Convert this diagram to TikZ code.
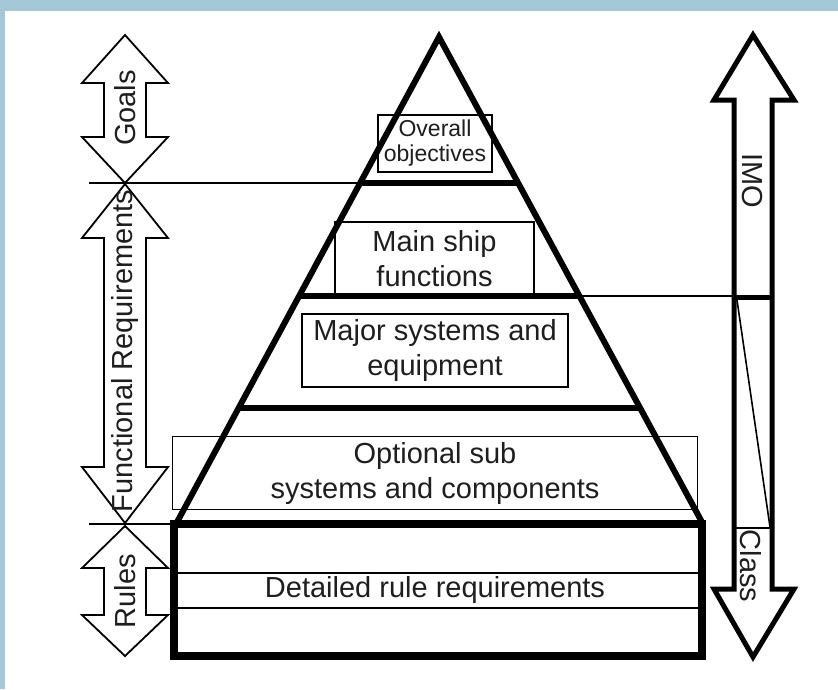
\documentclass[tikz,border=0pt]{standalone}
\usepackage{fontspec}
\setmainfont{Liberation Sans}
\usetikzlibrary{calc}
\definecolor{frameblue}{HTML}{A5C8D8}
\definecolor{inktext}{HTML}{1E1E1E}
\begin{document}
\begin{tikzpicture}[x=1pt,y=-1pt,
  thin rule/.style={line width=1.1pt},
  heavy/.style={line width=6pt},
  outline/.style={line width=1.8pt, line join=miter},
  bold outline/.style={line width=5pt, line join=miter},
  tbox/.style={draw, line width=1.1pt, inner sep=0pt, align=center,
    text=inktext, font=\fontsize{29}{35}\selectfont},
  label/.style={inner sep=0pt, text=inktext, font=\fontsize{29}{35}\selectfont},
]
% page and frame
\fill[frameblue] (0,0) rectangle (838,689);
\fill[white] (5,11) rectangle (838,689);
\useasboundingbox (0,0) rectangle (838,689);

% text boxes inside the pyramid
\node[tbox, minimum width=114pt, minimum height=57pt,
  font=\fontsize{23}{25}\selectfont] (overall) at (435,143.5) {Overall\\objectives};
\node[tbox, minimum width=199pt, minimum height=74pt] (mainship) at (434.5,259) {Main ship\\functions};
\node[tbox, minimum width=266pt, minimum height=73pt] (major) at (435,350.5) {Major systems and\\equipment};
\node[tbox, minimum width=525pt, minimum height=73pt] (optional) at (435,473) {Optional sub\\systems and components};

% pyramid
\coordinate (apex) at (439,37);
\coordinate (bl) at (176,524);
\coordinate (br) at (703,524);
\draw[heavy, line join=miter] (bl) -- (apex) -- (br);
\coordinate (l1) at ($(apex)!146/487!(bl)$);
\coordinate (r1) at ($(apex)!146/487!(br)$);
\coordinate (l2) at ($(apex)!259/487!(bl)$);
\coordinate (r2) at ($(apex)!259/487!(br)$);
\coordinate (l3) at ($(apex)!371/487!(bl)$);
\coordinate (r3) at ($(apex)!371/487!(br)$);
\draw[line width=5.5pt] (l1) -- (r1);
\draw[line width=5.5pt] (l2) -- (r2);
\draw[line width=5.5pt] (l3) -- (r3);

% rule block at the base
\draw[line width=8pt] (174,524) rectangle (702,656);
\coordinate (ra) at (178,573);
\coordinate (rb) at (698,573);
\coordinate (rc) at (178,608);
\coordinate (rd) at (698,608);
\draw[thin rule] (ra) -- (rb);
\draw[thin rule] (rc) -- (rd);
\node[label] (detailed) at (435,590) {Detailed rule requirements};

% left double arrows
\draw[outline] (125,35) -- (168,83) -- (146,83) -- (146,137) -- (168,137) -- (125,183)
  -- (82,137) -- (104,137) -- (104,83) -- (82,83) -- cycle;
\draw[outline] (125,184) -- (168,238) -- (146,238) -- (146,467) -- (168,467) -- (125,523)
  -- (82,467) -- (104,467) -- (104,238) -- (82,238) -- cycle;
\draw[outline] (125,526) -- (168,568) -- (146,568) -- (146,615) -- (168,615) -- (125,656)
  -- (82,615) -- (104,615) -- (104,568) -- (82,568) -- cycle;
\node[label, rotate=90] (goals) at (125,108) {Goals};
\node[label, rotate=90] (func) at (125,351) {Functional Requirements};
\node[label, rotate=90] (rules) at (125,591) {Rules};

% level lines
\coordinate (g1) at (89,183);
\coordinate (g2) at (89,524);
\coordinate (g2e) at (170,524);
\draw[thin rule] (g1) -- (g1 -| l1);
\draw[thin rule] (g2) -- (g2e);

% right arrow: IMO up, Class down
\draw[bold outline] (734,297) -- (734,100) -- (714,100) -- (753,35) -- (794,100)
  -- (772,100) -- (772,297);
\draw[bold outline] (734,297) -- (734,589) -- (714,589) -- (753,657) -- (794,589)
  -- (772,589) -- (772,297);
\coordinate (ia) at (734,297);
\coordinate (ib) at (772,297);
\draw[line width=5pt] (ia) -- (ib);
\draw[thin rule] (r2) -- (r2 -| ia);
\coordinate (ca) at (737,300);
\coordinate (cb) at (770,527);
\draw[line width=1.6pt] (ca) -- (cb);
\coordinate (cc) at (734,528);
\coordinate (cd) at (772,528);
\draw[line width=2pt] (cc) -- (cd);
\node[label, rotate=-90] (imo) at (752,181) {IMO};
\node[label, rotate=-90] (class) at (751,566) {Class};
\end{tikzpicture}
\end{document}
